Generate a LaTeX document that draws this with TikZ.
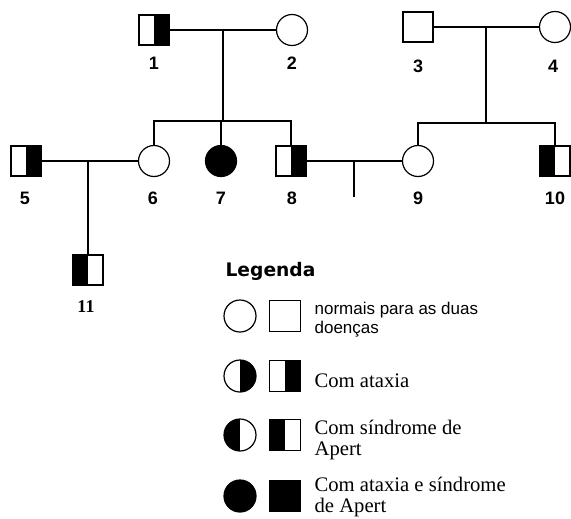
\documentclass[tikz,border=0pt]{standalone}
\usepackage{fontspec}
\setmainfont{Liberation Serif}
\newfontfamily\arialfont{Liberation Sans}
\newfontfamily\tahomafont{DejaVu Sans}
\tikzset{
  male/.style={draw,rectangle,minimum size=22.5pt,inner sep=0pt},
  female/.style={draw,circle,minimum size=23.25pt,inner sep=0pt},
  rblack/.style={path picture={\fill[black] (path picture bounding box.north) rectangle (path picture bounding box.south east);}},
  lblack/.style={path picture={\fill[black] (path picture bounding box.north) rectangle (path picture bounding box.south west);}},
  num/.style={inner sep=0pt,font=\arialfont\bfseries\fontsize{13.5}{15}\selectfont},
  key/.style={anchor=base west,align=left,inner sep=0pt,font=\fontsize{15.5}{15.75}\selectfont}
}

\begin{document}
\begin{tikzpicture}[x=0.75pt,y=-0.75pt,line width=0.9pt]
  \useasboundingbox (0,0) rectangle (571,518);
  % generation I
  \node[male,rblack] (p1) at (154,30) {};
  \node[female] (p2) at (292,30) {};
  \node[male] (p3) at (418,27) {};
  \node[female] (p4) at (555,27) {};
  % generation II
  \node[male,rblack] (p5) at (26,161) {};
  \node[female] (p6) at (154,161) {};
  \node[female,fill=black] (p7) at (221,161) {};
  \node[male,rblack] (p8) at (291,161) {};
  \node[female] (p9) at (418,161) {};
  \node[male,lblack] (p10) at (555,161) {};
  % generation III
  \node[male,lblack] (p11) at (88,270) {};

  \coordinate (m12) at (223,30);
  \coordinate (s12) at (223,121);
  \coordinate (m34) at (486,27);
  \coordinate (s34) at (486,123);
  \coordinate (m56) at (88,161);
  \coordinate (m89) at (354,161);
  \coordinate (e89) at (354,197);

  \draw (p1) -- (p2);
  \draw (p3) -- (p4);
  \draw (p5) -- (p6);
  \draw (p8) -- (p9);
  \draw (m12) -- (s12);
  \draw (p6.north) -- (p6.north |- s12) -- (p8.north |- s12) -- (p8.north);
  \draw (p7.north) -- (p7.north |- s12);
  \draw (m34) -- (s34);
  \draw (p9.north) -- (p9.north |- s34) -- (p10.north |- s34) -- (p10.north);
  \draw (m56) -- (p11);
  \draw (m89) -- (e89);

  % numbers
  \node[num] (l1) at (154,63) {1};
  \node[num] (l2) at (292,63) {2};
  \node[num] (l3) at (418,66) {3};
  \node[num] (l4) at (553,66) {4};
  \node[num] (l5) at (25,198) {5};
  \node[num] (l6) at (153,198) {6};
  \node[num] (l7) at (221,198) {7};
  \node[num] (l8) at (292,198) {8};
  \node[num] (l9) at (418,198) {9};
  \node[num] (l10) at (555,198) {10};
  \node[num,font=\bfseries\fontsize{13.5}{15}\selectfont] (l11) at (86,307) {11};

  % legend
  \node[anchor=base west,inner sep=0pt,font=\tahomafont\bfseries\fontsize{14}{16}\selectfont] (leg) at (225,276) {Legenda};
  \node[female,minimum size=24pt] (k1f) at (240,316) {};
  \node[male,minimum size=23.25pt] (k1m) at (285,316) {};
  \node[female,minimum size=24pt,rblack] (k2f) at (240,376) {};
  \node[male,minimum size=23.25pt,rblack] (k2m) at (285,376) {};
  \node[female,minimum size=24pt,lblack] (k3f) at (240,435) {};
  \node[male,minimum size=23.25pt,lblack] (k3m) at (285,435) {};
  \node[female,minimum size=24pt,fill=black] (k4f) at (240,496) {};
  \node[male,minimum size=23.25pt,fill=black] (k4m) at (285,496) {};
  \node[key,font=\arialfont\fontsize{12.75}{14}\selectfont] (t1) at (314,333) {normais para as duas\\doenças};
  \node[key] (t2) at (314,387) {Com ataxia};
  \node[key] (t3) at (314,455) {Com síndrome de\\Apert};
  \node[key] (t4) at (314,512) {Com ataxia e síndrome\\de Apert};
\end{tikzpicture}
\end{document}
